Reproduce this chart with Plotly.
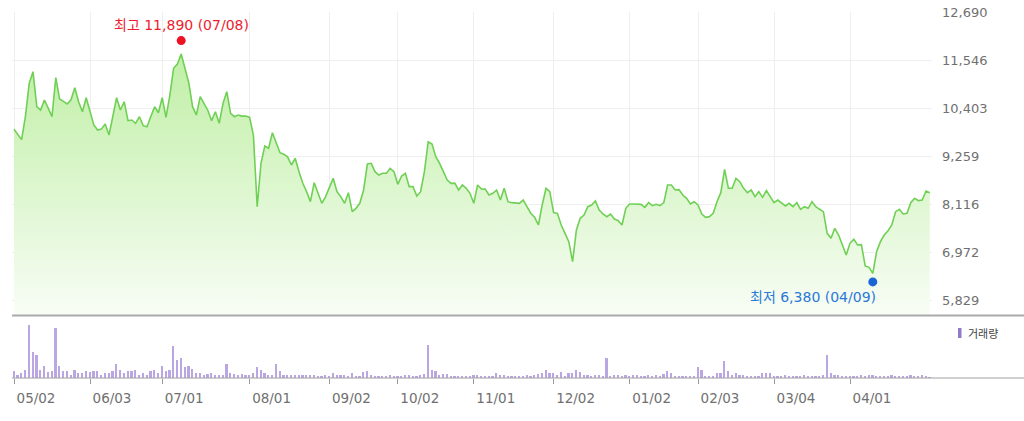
import plotly.graph_objects as go

# ---- data -------------------------------------------------------------
tick_labels = ["05/02", "06/03", "07/01", "08/01", "09/02", "10/02",
               "11/01", "12/02", "01/02", "02/03", "03/04", "04/01"]
tick_days = [0, 20, 39, 62, 83, 101, 121, 142, 162, 180, 200, 220]  # trading-day index
price_ticks = [5829, 6972, 8116, 9259, 10403, 11546, 12690]

close = [
    9895, 9780, 9650, 10200, 10991, 11268, 10434, 10355, 10594, 10400,
    10196, 11125, 10617, 10560, 10498, 10600, 10887, 10550, 10315, 10649,
    10350, 9998, 9879, 9900, 10022, 9760, 10200, 10649, 10355, 10553,
    10101, 10117, 10038, 10196, 9982, 9958, 10200, 10434, 10291, 10649,
    10180, 10700, 11349, 11450, 11689, 11350, 11000, 10434, 10236, 10673,
    10500, 10350, 10101, 10315, 10038, 10514, 10791, 10276, 10196, 10236,
    10210, 10210, 10180, 9760, 8052, 9086, 9498, 9443, 9815, 9562,
    9338, 9300, 9240, 9045, 9205, 8886, 8609, 8410, 8171, 8624,
    8371, 8133, 8291, 8529, 8728, 8410, 8291, 8133, 8386, 7933,
    8013, 8133, 8450, 9069, 9085, 8886, 8807, 8847, 8850, 8966,
    8886, 8585, 8783, 8847, 8529, 8529, 8307, 8410, 8886, 9600,
    9545, 9243, 9085, 8886, 8688, 8609, 8614, 8450, 8569, 8490,
    8371, 8133, 8569, 8473, 8470, 8331, 8371, 8450, 8211, 8490,
    8171, 8148, 8133, 8133, 8211, 8052, 7894, 7799, 7616, 8093,
    8490, 8410, 7910, 7894, 7616, 7418, 7219, 6742, 7497, 7775,
    7854, 8052, 8093, 8188, 7973, 7878, 7814, 7878, 7759, 7719,
    7616, 8013, 8116, 8116, 8108, 8108, 8037, 8148, 8077, 8108,
    8077, 8148, 8569, 8569, 8450, 8458, 8331, 8252, 8116, 8171,
    8093, 7878, 7799, 7815, 7894, 8171, 8386, 8943, 8490, 8490,
    8728, 8648, 8490, 8386, 8450, 8291, 8410, 8275, 8434, 8291,
    8148, 8211, 8148, 8069, 8133, 8052, 8148, 7990, 8052, 8013,
    8171, 8052, 7990, 7933, 7418, 7299, 7537, 7378, 7140, 6901,
    7180, 7275, 7140, 7148, 6639, 6608, 6465, 6980, 7219, 7378,
    7480, 7616, 7933, 7990, 7878, 7894, 8148, 8252, 8196, 8211,
    8426, 8386,
]

volume = [  # thousand shares (estimated)
    350, 150, 250, 400, 2650, 1300, 1150, 400, 600, 300, 350, 2500, 600, 350, 350, 150, 400, 250, 250, 350,
    300, 350, 350, 150, 250, 250, 350, 700, 400, 250, 350, 350, 400, 150, 250, 150, 350, 400, 250, 600,
    350, 400, 1600, 900, 1000, 550, 600, 450, 250, 250, 150, 200, 250, 150, 150, 150, 700, 250, 200, 150,
    200, 150, 150, 250, 550, 400, 250, 150, 150, 700, 350, 150, 150, 150, 150, 150, 150, 150, 150, 150,
    100, 100, 150, 100, 250, 150, 150, 150, 100, 250, 100, 100, 300, 350, 150, 100, 100, 100, 100, 150,
    100, 100, 100, 150, 150, 100, 100, 150, 200, 1650, 400, 350, 150, 200, 200, 100, 100, 100, 100, 100,
    100, 150, 150, 100, 100, 100, 100, 250, 150, 150, 100, 100, 100, 100, 100, 150, 100, 150, 200, 250,
    400, 250, 250, 150, 300, 100, 250, 250, 400, 300, 150, 150, 100, 150, 150, 100, 1000, 100, 150, 150,
    100, 150, 100, 150, 150, 100, 100, 150, 100, 150, 100, 200, 350, 250, 100, 100, 100, 100, 100, 100,
    550, 400, 100, 100, 100, 250, 250, 850, 350, 150, 250, 150, 150, 100, 100, 100, 100, 250, 250, 250,
    100, 100, 100, 150, 100, 100, 100, 100, 150, 100, 100, 100, 100, 150, 1150, 250, 150, 150, 100, 100,
    100, 100, 100, 150, 100, 150, 150, 100, 100, 100, 100, 150, 100, 100, 100, 100, 150, 100, 100, 150,
    100, 50,
]

high_day, high_price, high_date = 44, 11890, "07/08"
low_day, low_price, low_date = 226, 6380, "04/09"

days = list(range(len(close)))

# ---- layout geometry (pixels) ------------------------------------------
W, H = 1024, 421
ML, MR, MT, MB = 12, 92, 12, 43
plot_h = H - MT - MB                      # 366
sep_px = 315                              # bottom of price panel
vol_top_px = 318
price_dom = [(H - MB - sep_px) / plot_h, 1.0]
vol_dom = [0.0, (H - MB - vol_top_px) / plot_h]
x_range = [-0.526, -0.526 + (W - ML - MR) / 3.8]
y_range = [5472, 12690]
v_range = [0, 3000]

FONT = "DejaVu Sans, Noto Sans CJK KR, sans-serif"
KFONT = "DejaVu Sans, Noto Sans CJK KR, sans-serif"

fig = go.Figure()

fig.add_trace(go.Scatter(
    x=days, y=close, mode="lines",
    line=dict(color="#6fd055", width=1.6),
    fill="tozeroy",
    fillgradient=dict(type="vertical", start=y_range[0], stop=11700,
                      colorscale=[[0, "rgb(248,253,245)"], [1, "rgb(192,239,166)"]]),
    xaxis="x", yaxis="y", hoverinfo="skip",
))

fig.add_trace(go.Bar(
    x=days, y=volume, width=0.45,
    marker=dict(color="#b9a6e2", line=dict(width=0)),
    xaxis="x2", yaxis="y2", hoverinfo="skip",
))

fig.update_layout(
    width=W, height=H,
    margin=dict(l=ML, r=MR, t=MT, b=MB, pad=0, autoexpand=False),
    paper_bgcolor="white", plot_bgcolor="white",
    showlegend=False, bargap=0,
    font=dict(family=FONT, color="#666666"),
    xaxis=dict(domain=[0, 1], range=x_range, anchor="y", automargin=False,
               tickvals=tick_days, showticklabels=False, ticks="",
               showgrid=True, gridcolor="#efefef", gridwidth=1,
               zeroline=False, showline=False),
    yaxis=dict(domain=price_dom, range=y_range, side="right", anchor="x", automargin=False,
               tickvals=price_ticks, ticktext=[f"{v:,}" for v in price_ticks],
               showgrid=True, gridcolor="#efefef", gridwidth=1,
               zeroline=False, showline=False, ticks="",
               ticklabelstandoff=9,
               tickfont=dict(size=13, color="#707070")),
    xaxis2=dict(domain=[0, 1], range=x_range, anchor="y2", automargin=False,
                tickvals=tick_days, ticktext=tick_labels,
                ticks="outside", ticklen=5, tickcolor="#999999", tickwidth=1,
                ticklabelshift=22, ticklabelstandoff=3,
                showgrid=False, zeroline=False, showline=False,
                tickfont=dict(size=13.5, color="#707070")),
    yaxis2=dict(domain=vol_dom, range=v_range, anchor="x2", automargin=False,
                showticklabels=False, showgrid=False, zeroline=False,
                showline=False, ticks=""),
)

def py(px):
    return (H - MB - px) / plot_h

def pxx(px):
    return (px - ML) / (W - ML - MR)

shapes = [
    # panel separator and volume baseline (span to the right edge)
    dict(type="line", xref="paper", yref="paper", x0=0, x1=pxx(W), y0=py(315.5), y1=py(315.5),
         line=dict(color="#aaaaaa", width=2), layer="above"),
    dict(type="line", xref="paper", yref="paper", x0=0, x1=pxx(W), y0=py(378), y1=py(378),
         line=dict(color="#a0a0a0", width=1), layer="above"),
    # legend swatch
    dict(type="rect", xref="paper", yref="paper", x0=pxx(958), x1=pxx(961.5),
         y0=py(338), y1=py(328), fillcolor="#8f7bc9", line=dict(width=0)),
    # high / low dots
    dict(type="circle", xref="x", yref="y", xsizemode="pixel", ysizemode="pixel",
         xanchor=high_day, yanchor=high_price, x0=-4.5, x1=4.5, y0=0.5, y1=9.5,
         fillcolor="#ee1122", line=dict(width=0)),
    dict(type="circle", xref="x", yref="y", xsizemode="pixel", ysizemode="pixel",
         xanchor=low_day, yanchor=low_price, x0=-4.5, x1=4.5, y0=-9.5, y1=-0.5,
         fillcolor="#1b66d6", line=dict(width=0)),
]
fig.update_layout(shapes=shapes)

fig.add_annotation(x=high_day, y=high_price, xref="x", yref="y",
                   text=f"최고 {high_price:,} ({high_date})", showarrow=False,
                   xanchor="center", yanchor="middle", yshift=20.5,
                   font=dict(family=KFONT, size=14, color="#ee1c2e"))
fig.add_annotation(x=low_day, y=low_price, xref="x", yref="y",
                   text=f"최저 {low_price:,} ({low_date})", showarrow=False,
                   xanchor="right", yanchor="middle", xshift=5, yshift=-20,
                   font=dict(family=KFONT, size=14, color="#2a78d8"))
fig.add_annotation(x=pxx(966), y=py(333), xref="paper", yref="paper",
                   text="거래량", showarrow=False, xanchor="left", yanchor="middle",
                   font=dict(family="Noto Sans CJK KR, sans-serif", size=11, color="#444444"))

fig.write_html("out.html", config={"displayModeBar": False},
               post_script="document.body.style.margin='0';")
